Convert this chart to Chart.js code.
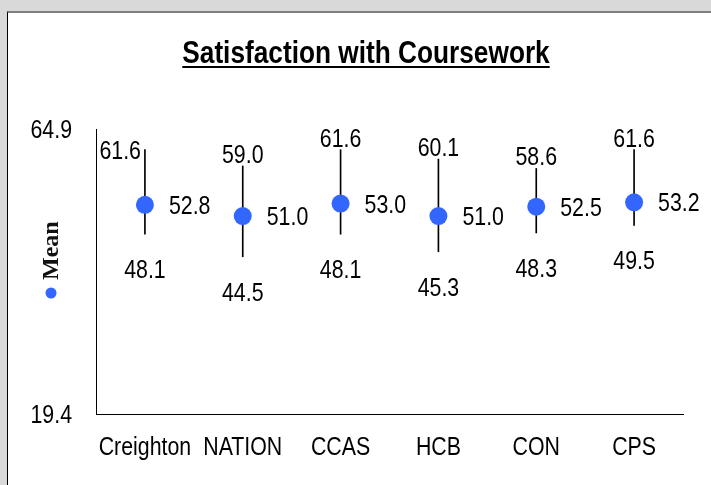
<!DOCTYPE html>
<html>
<head>
<meta charset="utf-8">
<script src="https://cdn.jsdelivr.net/npm/chart.js@4/dist/chart.umd.min.js"></script>
<style>
    html, body { margin: 0; padding: 0; background: #d9d9d9; overflow: hidden; }
    #panel {
        position: absolute; left: 7px; top: 11px; width: 720px; height: 490px;
        background: #fff; border-top: 2px solid #7f7f7f; border-left: 1px solid #000;
    }
    #chartBox { position: absolute; left: 0; top: 0; width: 711px; height: 485px; }
</style>
</head>
<body>
<div id="panel"></div>
<div id="chartBox"><canvas id="canvas-meanChart" width="711" height="485"></canvas></div>
<script>

// Satisfaction with Coursework - mean with low / high range

const categories = ['Creighton', 'NATION', 'CCAS', 'HCB', 'CON', 'CPS'];
const meanValues = [52.8, 51.0, 53.0, 51.0, 52.5, 53.2];
const highValues = [61.6, 59.0, 61.6, 60.1, 58.6, 61.6];
const lowValues = [48.1, 44.5, 48.1, 45.3, 48.3, 49.5];
const yTicks = [19.4, 64.9];

const sansFont = "'Liberation Sans', Arial, sans-serif";
const NARROW = 0.82;   // no narrow face installed, squeeze Liberation Sans

// draw text squeezed horizontally (Arial Narrow look)
function narrowText(ctx, text, x, y, align) {
    ctx.save();
    ctx.translate(x, y);
    ctx.scale(NARROW, 1);
    ctx.textAlign = align;
    ctx.fillText(text, 0, 0);
    ctx.restore();
}

// title with underline + rotated legend + axis labels
const decorPlugin = {
    id: 'decor',
    afterDraw(chart) {
        const ctx = chart.ctx;
        const xs = chart.scales.x;
        const ys = chart.scales.y;
        ctx.save();
        ctx.fillStyle = '#000';
        ctx.textBaseline = 'alphabetic';

        // title
        ctx.font = 'bold 32px ' + sansFont;
        const title = 'Satisfaction with Coursework';
        narrowText(ctx, title, 366, 63, 'center');
        const w = ctx.measureText(title).width * NARROW;
        ctx.fillRect(366 - w / 2, 66, w, 2);

        // axis tick labels
        ctx.font = '26px ' + sansFont;
        xs.ticks.forEach((t, i) => {
            narrowText(ctx, xs.getLabelForValue(t.value), xs.getPixelForTick(i), 455, 'center');
        });
        ys.ticks.forEach((t, i) => {
            narrowText(ctx, Number(t.value).toFixed(1), ys.left + ys.width - 24, ys.getPixelForTick(i) + 9, 'right');
        });

        // legend
        ctx.fillStyle = '#3366ff';
        ctx.beginPath();
        ctx.arc(51, 293, 5.5, 0, Math.PI * 2);
        ctx.fill();

        ctx.translate(58, 280);
        ctx.rotate(-Math.PI / 2);
        ctx.font = 'bold 24px "Liberation Serif", "DejaVu Serif", serif';
        ctx.fillStyle = '#111';
        ctx.textAlign = 'left';
        ctx.fillText('Mean', 0, 0);

        ctx.restore();
    }
};

// value labels: high above, mean right, low below
const valueLabelPlugin = {
    id: 'valueLabels',
    afterDatasetsDraw(chart) {
        const ctx = chart.ctx;
        const x = chart.scales.x;
        const y = chart.scales.y;
        ctx.save();
        ctx.font = '26px ' + sansFont;
        ctx.fillStyle = '#000';
        ctx.textBaseline = 'alphabetic';

        categories.forEach((c, i) => {
            const px = x.getPixelForValue(i);
            const top = y.getPixelForValue(highValues[i]);
            const mid = y.getPixelForValue(meanValues[i]);
            const bot = y.getPixelForValue(lowValues[i]);

            if (i === 0) {
                narrowText(ctx, highValues[i].toFixed(1), px - 4, top + 9, 'right');
            } else {
                narrowText(ctx, highValues[i].toFixed(1), px, top - 3, 'center');
            }

            narrowText(ctx, meanValues[i].toFixed(1), px + 24, mid + 9, 'left');
            narrowText(ctx, lowValues[i].toFixed(1), px, bot + 44, 'center');
        });

        ctx.restore();
    }
};

const rangeData = categories.map((c, i) => [lowValues[i], highValues[i]]);

new Chart(document.getElementById('canvas-meanChart'), {

    type: 'bar',

    data: {
        labels: categories,
        datasets: [
            {
                type: 'line',
                label: 'Mean',
                data: meanValues,
                showLine: false,
                pointRadius: 9,
                pointHoverRadius: 9,
                pointBackgroundColor: '#3366ff',
                pointBorderColor: '#3366ff',
                pointBorderWidth: 0,
                order: 1
            },
            {
                label: 'Range',
                data: rangeData,
                backgroundColor: '#000',
                barThickness: 1,
                order: 2
            }
        ]
    },

    options: {
        responsive: false,
        animation: false,
        layout: {
            padding: { top: 129, right: 28, bottom: 0, left: 0 }
        },
        plugins: {
            legend: { display: false },
            title: { display: false },
            tooltip: { enabled: false }
        },
        scales: {
            x: {
                offset: true,
                grid: { display: false },
                border: { display: true, color: '#000', width: 1 },
                ticks: { display: false },
                afterFit(scale) { scale.height = 71; }
            },
            y: {
                min: yTicks[0],
                max: yTicks[1],
                grid: { display: false },
                border: { display: true, color: '#000', width: 1 },
                afterBuildTicks(axis) {
                    axis.ticks = yTicks.map(v => ({ value: v }));
                },
                ticks: { display: false },
                afterFit(scale) { scale.width = 96; }
            }
        }
    },

    plugins: [decorPlugin, valueLabelPlugin]

});

</script>
</body>
</html>
